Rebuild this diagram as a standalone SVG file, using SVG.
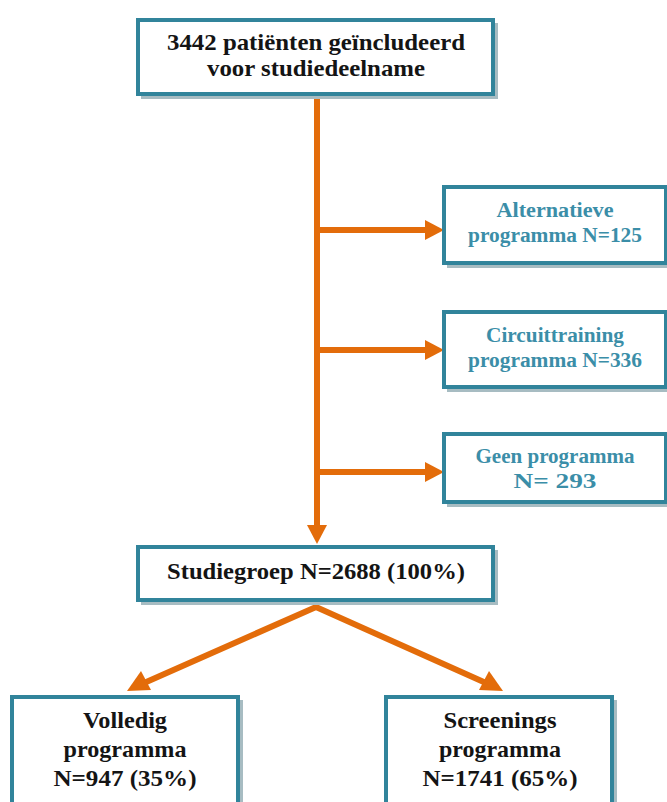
<svg xmlns="http://www.w3.org/2000/svg" width="667" height="802" viewBox="0 0 667 802">
<style>
.box{fill:#ffffff;stroke:#31849b;stroke-width:4}
.shadow{fill:#a7bcc2}
.t{font-family:"Liberation Serif","Times New Roman",serif;font-weight:bold;text-anchor:middle}
.blk{fill:#141414;font-size:23px}
.teal{fill:#3b8ea8;font-size:20.5px}
.ln{stroke:#e36c0a;stroke-width:6;fill:none}
.hd{fill:#e36c0a}
</style>
<rect width="667" height="802" fill="#ffffff"/>
<g id="connectors">
<line class="ln" x1="317" y1="95" x2="317" y2="527"/>
<polygon class="hd" points="307,525 327,525 317,544"/>
<line class="ln" x1="317" y1="230" x2="427" y2="230"/>
<polygon class="hd" points="425,220 425,240 444,230"/>
<line class="ln" x1="317" y1="350" x2="427" y2="350"/>
<polygon class="hd" points="425,340 425,360 444,350"/>
<line class="ln" x1="317" y1="472" x2="427" y2="472"/>
<polygon class="hd" points="425,462 425,482 444,472"/>
<polyline class="ln" points="144,683 316,607 486,683"/>
<polygon class="hd" points="127,691 141,671 151,690"/>
<polygon class="hd" points="503,691 479,690 489,671"/>
</g>
<g id="n-top">
<rect class="shadow" x="141" y="23" width="357" height="76"/>
<rect class="box" x="138" y="20" width="355" height="74"/>
<text class="t blk" x="316" y="50" textLength="298" lengthAdjust="spacingAndGlyphs">3442 patiënten geïncludeerd</text>
<text class="t blk" x="316" y="76" textLength="218" lengthAdjust="spacingAndGlyphs">voor studiedeelname</text>
</g>
<g id="n-alt">
<rect class="shadow" x="447" y="190" width="224" height="78"/>
<rect class="box" x="444" y="187" width="222" height="76"/>
<text class="t teal" x="555" y="217" textLength="117" lengthAdjust="spacingAndGlyphs">Alternatieve</text>
<text class="t teal" x="555" y="242" textLength="174" lengthAdjust="spacingAndGlyphs">programma N=125</text>
</g>
<g id="n-circuit">
<rect class="shadow" x="447" y="315" width="224" height="77"/>
<rect class="box" x="444" y="312" width="222" height="75"/>
<text class="t teal" x="555" y="342" textLength="138" lengthAdjust="spacingAndGlyphs">Circuittraining</text>
<text class="t teal" x="555" y="367" textLength="174" lengthAdjust="spacingAndGlyphs">programma N=336</text>
</g>
<g id="n-geen">
<rect class="shadow" x="447" y="437" width="224" height="70"/>
<rect class="box" x="444" y="434" width="222" height="68"/>
<text class="t teal" x="555" y="463" textLength="159" lengthAdjust="spacingAndGlyphs">Geen programma</text>
<text class="t teal" x="555" y="488" textLength="83" lengthAdjust="spacingAndGlyphs">N= 293</text>
</g>
<g id="n-studie">
<rect class="shadow" x="141" y="550" width="357" height="55"/>
<rect class="box" x="138" y="547" width="355" height="53"/>
<text class="t blk" x="316" y="579" textLength="298" lengthAdjust="spacingAndGlyphs">Studiegroep N=2688 (100%)</text>
</g>
<g id="n-volledig">
<rect class="shadow" x="15" y="700" width="228" height="112"/>
<rect class="box" x="12" y="697" width="226" height="110"/>
<text class="t blk" x="125" y="728" textLength="84" lengthAdjust="spacingAndGlyphs">Volledig</text>
<text class="t blk" x="125" y="757" textLength="123" lengthAdjust="spacingAndGlyphs">programma</text>
<text class="t blk" x="125" y="786" textLength="143" lengthAdjust="spacingAndGlyphs">N=947 (35%)</text>
</g>
<g id="n-screening">
<rect class="shadow" x="389" y="700" width="228" height="112"/>
<rect class="box" x="386" y="697" width="226" height="110"/>
<text class="t blk" x="500" y="728" textLength="113" lengthAdjust="spacingAndGlyphs">Screenings</text>
<text class="t blk" x="500" y="757" textLength="122" lengthAdjust="spacingAndGlyphs">programma</text>
<text class="t blk" x="500" y="786" textLength="155" lengthAdjust="spacingAndGlyphs">N=1741 (65%)</text>
</g>
</svg>
